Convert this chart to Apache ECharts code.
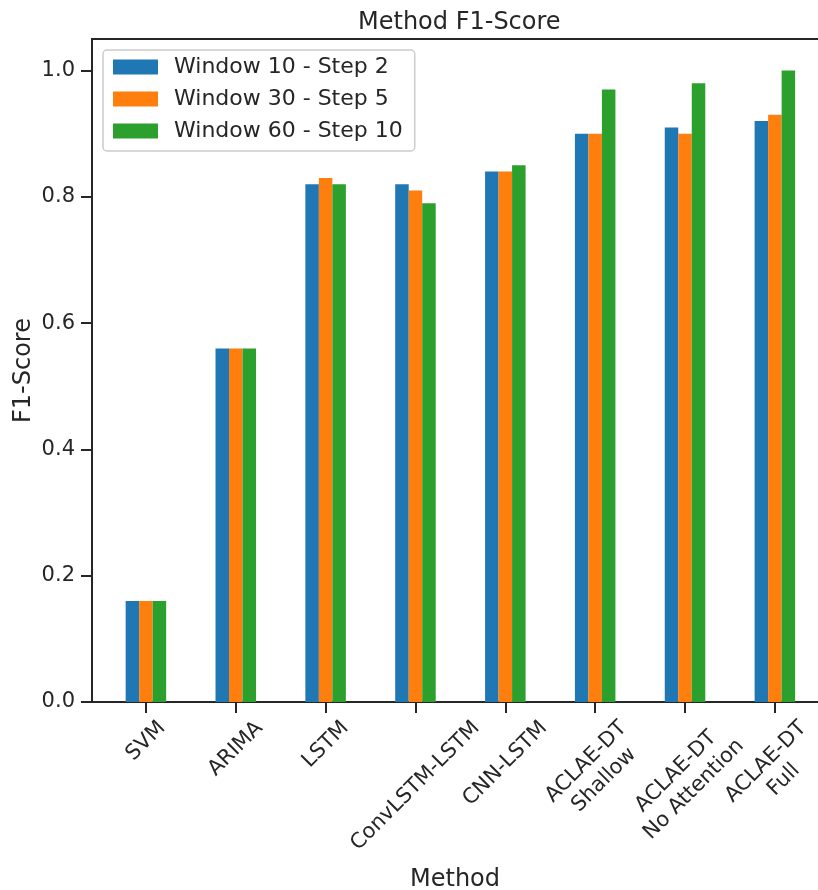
<!DOCTYPE html>
<html>
<head>
<meta charset="utf-8">
<script src="https://cdn.jsdelivr.net/npm/echarts@6/dist/echarts.min.js"></script>
<style>
  html, body { margin: 0; padding: 0; background: #fff; }
  #chart { width: 818px; height: 890px; }
</style>
</head>
<body>
<div id="chart"></div>
<script>
// Methods compared, in plotting order
const categories = [
  'SVM', 'ARIMA', 'LSTM', 'ConvLSTM-LSTM', 'CNN-LSTM',
  'ACLAE-DT\nShallow', 'ACLAE-DT\nNo Attention', 'ACLAE-DT\nFull'
];
const seriesNames = ['Window 10 - Step 2', 'Window 30 - Step 5', 'Window 60 - Step 10'];
// F1-scores per configuration
const window10 = [0.16, 0.56, 0.82, 0.82, 0.84, 0.90, 0.91, 0.92];
const window30 = [0.16, 0.56, 0.83, 0.81, 0.84, 0.90, 0.90, 0.93];
const window60 = [0.16, 0.56, 0.82, 0.79, 0.85, 0.97, 0.98, 1.00];
const yTicks = [0.0, 0.2, 0.4, 0.6, 0.8, 1.0];

const colors = ['#1f77b4', '#ff7f0e', '#2ca02c'];
const FONT = '"DejaVu Sans", "Liberation Sans", sans-serif';
const INK = '#262626';
const TICK_FS = 21;

const chart = echarts.init(document.getElementById('chart'), null, { renderer: 'canvas' });

const xIdx = categories.map((_, i) => i);
const toPts = arr => arr.map((v, i) => [i, v]);

const option = {
  animation: false,
  color: colors,
  textStyle: { fontFamily: FONT, color: INK },
  title: {
    text: 'Method F1-Score',
    left: 358,
    top: 11,
    padding: 0,
    textStyle: { fontFamily: FONT, fontSize: 24, fontWeight: 'normal', color: INK }
  },
  legend: {
    orient: 'vertical',
    left: 103,
    top: 50,
    padding: [6, 12, 9, 10],
    itemWidth: 45,
    itemHeight: 15,
    itemGap: 10,
    icon: 'rect',
    backgroundColor: 'rgba(255,255,255,0.8)',
    borderColor: '#cccccc',
    borderWidth: 1.5,
    borderRadius: 4,
    textStyle: { fontFamily: FONT, fontSize: 22, color: INK, lineHeight: 22, padding: [0, 0, 0, 11] },
    data: seriesNames
  },
  grid: {
    left: 92,
    top: 39,
    right: 0,
    height: 663,
    show: false,
    containLabel: false,
    outerBoundsMode: 'none'
  },
  xAxis: [{
    type: 'value',
    min: -0.6,
    max: 7.48,
    axisLine: { show: true, onZero: false, lineStyle: { color: INK, width: 2 } },
    axisTick: { show: true, length: 11, lineStyle: { color: INK, width: 2 }, customValues: xIdx },
    axisLabel: { show: false },
    splitLine: { show: false },
    name: 'Method',
    nameLocation: 'middle',
    nameGap: 166,
    nameMoveOverlap: false,
    nameTextStyle: { fontFamily: FONT, fontSize: 24, color: INK }
  }, {
    // top frame line of the plot area
    type: 'value',
    position: 'top',
    min: -0.6,
    max: 7.48,
    axisLine: { show: true, onZero: false, lineStyle: { color: INK, width: 2 } },
    axisTick: { show: false },
    axisLabel: { show: false },
    splitLine: { show: false }
  }],
  yAxis: {
    type: 'value',
    min: 0,
    max: 1.05,
    axisLine: { show: true, onZero: false, lineStyle: { color: INK, width: 2 } },
    axisTick: { show: true, length: 11, lineStyle: { color: INK, width: 2 }, customValues: yTicks },
    axisLabel: {
      customValues: yTicks,
      margin: 17,
      fontFamily: FONT,
      fontSize: TICK_FS,
      color: INK,
      formatter: v => v.toFixed(1)
    },
    splitLine: { show: false },
    name: 'F1-Score',
    nameLocation: 'middle',
    nameGap: 56,
    nameMoveOverlap: false,
    nameTextStyle: { fontFamily: FONT, fontSize: 24, color: INK }
  },
  series: [window10, window30, window60].map((arr, k) => ({
    name: seriesNames[k],
    type: 'bar',
    xAxisIndex: 0,
    data: toPts(arr),
    barWidth: 13.5,
    barGap: '0%',
    itemStyle: { color: colors[k] }
  }))
};

chart.setOption(option);

// Category labels rotated 45 degrees; each rotated block is centred under its tick
const ctx = document.createElement('canvas').getContext('2d');
ctx.font = TICK_FS + 'px "DejaVu Sans"';
const lineH = TICK_FS * 1.2;
const axisY = chart.convertToPixel({ yAxisIndex: 0 }, 0);
const labelEls = categories.map((name, i) => {
  const lines = name.split('\n');
  const w = Math.max(...lines.map(l => ctx.measureText(l).width));
  const h = lines.length * lineH;
  const boxH = (w + h) * Math.SQRT1_2;
  const cx = chart.convertToPixel({ xAxisIndex: 0 }, i);
  return {
    type: 'text',
    x: cx,
    y: axisY + 11 + 3 + boxH / 2,
    rotation: Math.PI / 4,
    style: {
      text: name,
      font: TICK_FS + 'px ' + FONT,
      fill: INK,
      align: 'center',
      verticalAlign: 'middle',
      lineHeight: lineH
    }
  };
});
chart.setOption({ graphic: labelEls });
</script>
</body>
</html>
